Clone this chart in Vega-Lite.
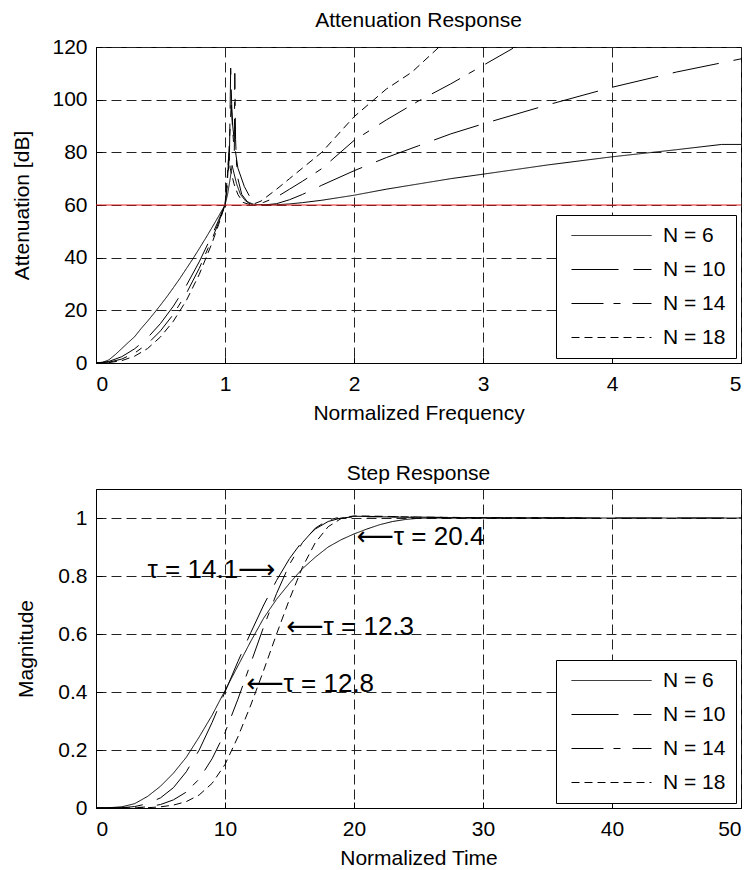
{
  "$schema": "https://vega.github.io/schema/vega-lite/v6.json",
  "background": "white",
  "padding": {"left": 11, "top": 9, "right": 0, "bottom": 0},
  "spacing": 38,
  "config": {
    "font": "Liberation Sans",
    "view": {"stroke": "black", "strokeWidth": 1},
    "axis": {
      "labelFont": "Liberation Sans", "labelFontSize": 21, "labelColor": "black",
      "titleFont": "Liberation Sans", "titleFontSize": 21, "titleFontWeight": "normal", "titleColor": "black",
      "domainColor": "black", "tickColor": "black", "tickSize": -6,
      "gridColor": "#222222", "gridDash": [10, 5], "gridOpacity": 1, "gridWidth": 1
    },
    "title": {"font": "Liberation Sans", "fontSize": 21, "fontWeight": "normal", "color": "black"},
    "legend": {
      "title": null, "orient": "bottom-right", "offset": 5,
      "strokeColor": "black", "fillColor": "white", "padding": 10, "cornerRadius": 0,
      "symbolType": "stroke", "symbolSize": 6400, "symbolStrokeWidth": 1, "symbolStrokeColor": "black",
      "clipHeight": 21, "rowPadding": 12, "labelFont": "Liberation Sans", "labelFontSize": 21,
      "labelColor": "black", "labelOffset": 11, "symbolOffset": 5
    }
  },
  "datasets": {
    "atten": [
      {"N": "N = 6", "f": 0, "A": 0}, {"N": "N = 6", "f": 0.05, "A": 0.2}, {"N": "N = 6", "f": 0.1, "A": 1.2},
      {"N": "N = 6", "f": 0.15, "A": 3.2}, {"N": "N = 6", "f": 0.2, "A": 5.5}, {"N": "N = 6", "f": 0.25, "A": 7.8},
      {"N": "N = 6", "f": 0.3, "A": 10}, {"N": "N = 6", "f": 0.35, "A": 13.1}, {"N": "N = 6", "f": 0.4, "A": 15.9},
      {"N": "N = 6", "f": 0.45, "A": 18.9}, {"N": "N = 6", "f": 0.5, "A": 22}, {"N": "N = 6", "f": 0.55, "A": 25.2},
      {"N": "N = 6", "f": 0.6, "A": 28.6}, {"N": "N = 6", "f": 0.65, "A": 32.1}, {"N": "N = 6", "f": 0.7, "A": 35.8},
      {"N": "N = 6", "f": 0.75, "A": 39.5}, {"N": "N = 6", "f": 0.8, "A": 43.4}, {"N": "N = 6", "f": 0.85, "A": 47.4},
      {"N": "N = 6", "f": 0.9, "A": 51.5}, {"N": "N = 6", "f": 0.95, "A": 55.7}, {"N": "N = 6", "f": 1.0, "A": 60},
      {"N": "N = 6", "f": 1.02, "A": 64}, {"N": "N = 6", "f": 1.04, "A": 70}, {"N": "N = 6", "f": 1.055, "A": 75},
      {"N": "N = 6", "f": 1.07, "A": 72}, {"N": "N = 6", "f": 1.09, "A": 68}, {"N": "N = 6", "f": 1.12, "A": 64},
      {"N": "N = 6", "f": 1.16, "A": 61.5}, {"N": "N = 6", "f": 1.22, "A": 60.3}, {"N": "N = 6", "f": 1.3, "A": 60},
      {"N": "N = 6", "f": 1.4, "A": 60.1}, {"N": "N = 6", "f": 1.5, "A": 60.4}, {"N": "N = 6", "f": 1.6, "A": 60.9},
      {"N": "N = 6", "f": 1.75, "A": 61.8}, {"N": "N = 6", "f": 2.0, "A": 63.7}, {"N": "N = 6", "f": 2.25, "A": 66},
      {"N": "N = 6", "f": 2.5, "A": 68}, {"N": "N = 6", "f": 2.75, "A": 70}, {"N": "N = 6", "f": 3.0, "A": 71.7},
      {"N": "N = 6", "f": 3.5, "A": 75.2}, {"N": "N = 6", "f": 4.0, "A": 78.3}, {"N": "N = 6", "f": 4.5, "A": 81},
      {"N": "N = 6", "f": 4.85, "A": 83}, {"N": "N = 6", "f": 5.0, "A": 83},

      {"N": "N = 10", "f": 0, "A": 0}, {"N": "N = 10", "f": 0.1, "A": 0.6}, {"N": "N = 10", "f": 0.2, "A": 2.4},
      {"N": "N = 10", "f": 0.3, "A": 5.4}, {"N": "N = 10", "f": 0.4, "A": 9.6}, {"N": "N = 10", "f": 0.5, "A": 15},
      {"N": "N = 10", "f": 0.6, "A": 21.6}, {"N": "N = 10", "f": 0.7, "A": 29.4}, {"N": "N = 10", "f": 0.8, "A": 38.4},
      {"N": "N = 10", "f": 0.9, "A": 48.6}, {"N": "N = 10", "f": 0.95, "A": 54.2}, {"N": "N = 10", "f": 1.0, "A": 60},
      {"N": "N = 10", "f": 1.02, "A": 68}, {"N": "N = 10", "f": 1.035, "A": 80}, {"N": "N = 10", "f": 1.044, "A": 112},
      {"N": "N = 10", "f": 1.052, "A": 98}, {"N": "N = 10", "f": 1.06, "A": 90}, {"N": "N = 10", "f": 1.08, "A": 80.7},
      {"N": "N = 10", "f": 1.1, "A": 74}, {"N": "N = 10", "f": 1.15, "A": 67}, {"N": "N = 10", "f": 1.2, "A": 62.4},
      {"N": "N = 10", "f": 1.25, "A": 60.5}, {"N": "N = 10", "f": 1.3, "A": 60}, {"N": "N = 10", "f": 1.4, "A": 60.5},
      {"N": "N = 10", "f": 1.5, "A": 62}, {"N": "N = 10", "f": 1.6, "A": 64}, {"N": "N = 10", "f": 1.75, "A": 67.5},
      {"N": "N = 10", "f": 2.0, "A": 73}, {"N": "N = 10", "f": 2.25, "A": 78}, {"N": "N = 10", "f": 2.5, "A": 82.5},
      {"N": "N = 10", "f": 2.75, "A": 87}, {"N": "N = 10", "f": 3.0, "A": 90.8}, {"N": "N = 10", "f": 3.5, "A": 98},
      {"N": "N = 10", "f": 4.0, "A": 104.7}, {"N": "N = 10", "f": 4.5, "A": 110.5}, {"N": "N = 10", "f": 5.0, "A": 115.5},

      {"N": "N = 14", "f": 0, "A": 0}, {"N": "N = 14", "f": 0.1, "A": 0.3}, {"N": "N = 14", "f": 0.2, "A": 1.5},
      {"N": "N = 14", "f": 0.3, "A": 3.8}, {"N": "N = 14", "f": 0.4, "A": 7.3}, {"N": "N = 14", "f": 0.5, "A": 12.2},
      {"N": "N = 14", "f": 0.6, "A": 18.5}, {"N": "N = 14", "f": 0.7, "A": 26.4}, {"N": "N = 14", "f": 0.8, "A": 35.9},
      {"N": "N = 14", "f": 0.9, "A": 47.1}, {"N": "N = 14", "f": 0.95, "A": 53.3}, {"N": "N = 14", "f": 1.0, "A": 60},
      {"N": "N = 14", "f": 1.02, "A": 70}, {"N": "N = 14", "f": 1.035, "A": 85}, {"N": "N = 14", "f": 1.048, "A": 98},
      {"N": "N = 14", "f": 1.06, "A": 88}, {"N": "N = 14", "f": 1.072, "A": 80}, {"N": "N = 14", "f": 1.076, "A": 110},
      {"N": "N = 14", "f": 1.082, "A": 85}, {"N": "N = 14", "f": 1.09, "A": 75}, {"N": "N = 14", "f": 1.1, "A": 70},
      {"N": "N = 14", "f": 1.13, "A": 64}, {"N": "N = 14", "f": 1.18, "A": 60.8}, {"N": "N = 14", "f": 1.22, "A": 60},
      {"N": "N = 14", "f": 1.3, "A": 61}, {"N": "N = 14", "f": 1.4, "A": 63}, {"N": "N = 14", "f": 1.5, "A": 66},
      {"N": "N = 14", "f": 1.6, "A": 69}, {"N": "N = 14", "f": 1.75, "A": 73.8}, {"N": "N = 14", "f": 2.0, "A": 84.5},
      {"N": "N = 14", "f": 2.25, "A": 92.3}, {"N": "N = 14", "f": 2.5, "A": 99.5}, {"N": "N = 14", "f": 2.75, "A": 106},
      {"N": "N = 14", "f": 3.0, "A": 113}, {"N": "N = 14", "f": 3.25, "A": 120},

      {"N": "N = 18", "f": 0, "A": 0}, {"N": "N = 18", "f": 0.1, "A": 0.15}, {"N": "N = 18", "f": 0.2, "A": 0.9},
      {"N": "N = 18", "f": 0.3, "A": 2.6}, {"N": "N = 18", "f": 0.4, "A": 5.5}, {"N": "N = 18", "f": 0.5, "A": 9.9},
      {"N": "N = 18", "f": 0.6, "A": 15.9}, {"N": "N = 18", "f": 0.7, "A": 23.7}, {"N": "N = 18", "f": 0.8, "A": 33.6},
      {"N": "N = 18", "f": 0.9, "A": 45.6}, {"N": "N = 18", "f": 0.95, "A": 52.5}, {"N": "N = 18", "f": 1.0, "A": 60},
      {"N": "N = 18", "f": 1.02, "A": 72}, {"N": "N = 18", "f": 1.03, "A": 80}, {"N": "N = 18", "f": 1.04, "A": 74},
      {"N": "N = 18", "f": 1.05, "A": 72}, {"N": "N = 18", "f": 1.07, "A": 68}, {"N": "N = 18", "f": 1.1, "A": 64},
      {"N": "N = 18", "f": 1.14, "A": 61}, {"N": "N = 18", "f": 1.2, "A": 60}, {"N": "N = 18", "f": 1.28, "A": 61.5},
      {"N": "N = 18", "f": 1.4, "A": 66}, {"N": "N = 18", "f": 1.5, "A": 70}, {"N": "N = 18", "f": 1.6, "A": 74},
      {"N": "N = 18", "f": 1.75, "A": 80}, {"N": "N = 18", "f": 2.0, "A": 93.5}, {"N": "N = 18", "f": 2.25, "A": 104},
      {"N": "N = 18", "f": 2.45, "A": 110.5}, {"N": "N = 18", "f": 2.66, "A": 120}
    ],
    "step": [
      {"N": "N = 6", "t": 0, "m": 0}, {"N": "N = 6", "t": 1, "m": 0.001}, {"N": "N = 6", "t": 2, "m": 0.004},
      {"N": "N = 6", "t": 3, "m": 0.015}, {"N": "N = 6", "t": 4, "m": 0.04}, {"N": "N = 6", "t": 5, "m": 0.075},
      {"N": "N = 6", "t": 6, "m": 0.12}, {"N": "N = 6", "t": 7, "m": 0.175}, {"N": "N = 6", "t": 8, "m": 0.245},
      {"N": "N = 6", "t": 9, "m": 0.32}, {"N": "N = 6", "t": 10, "m": 0.405}, {"N": "N = 6", "t": 11, "m": 0.49},
      {"N": "N = 6", "t": 12, "m": 0.575}, {"N": "N = 6", "t": 13, "m": 0.655}, {"N": "N = 6", "t": 14, "m": 0.72},
      {"N": "N = 6", "t": 15, "m": 0.775}, {"N": "N = 6", "t": 16, "m": 0.825}, {"N": "N = 6", "t": 17, "m": 0.865},
      {"N": "N = 6", "t": 18, "m": 0.9}, {"N": "N = 6", "t": 19, "m": 0.925}, {"N": "N = 6", "t": 20, "m": 0.945},
      {"N": "N = 6", "t": 21, "m": 0.962}, {"N": "N = 6", "t": 22, "m": 0.977}, {"N": "N = 6", "t": 23, "m": 0.988},
      {"N": "N = 6", "t": 24, "m": 0.995}, {"N": "N = 6", "t": 25, "m": 0.999}, {"N": "N = 6", "t": 26, "m": 1.0},
      {"N": "N = 6", "t": 30, "m": 1.0}, {"N": "N = 6", "t": 40, "m": 1.0}, {"N": "N = 6", "t": 50, "m": 1.0},

      {"N": "N = 10", "t": 0, "m": 0}, {"N": "N = 10", "t": 2, "m": 0.001}, {"N": "N = 10", "t": 3, "m": 0.005},
      {"N": "N = 10", "t": 4, "m": 0.015}, {"N": "N = 10", "t": 5, "m": 0.035}, {"N": "N = 10", "t": 6, "m": 0.07},
      {"N": "N = 10", "t": 7, "m": 0.125}, {"N": "N = 10", "t": 8, "m": 0.2}, {"N": "N = 10", "t": 9, "m": 0.295},
      {"N": "N = 10", "t": 10, "m": 0.4}, {"N": "N = 10", "t": 11, "m": 0.505}, {"N": "N = 10", "t": 12, "m": 0.605},
      {"N": "N = 10", "t": 13, "m": 0.7}, {"N": "N = 10", "t": 14, "m": 0.785}, {"N": "N = 10", "t": 15, "m": 0.86},
      {"N": "N = 10", "t": 16, "m": 0.92}, {"N": "N = 10", "t": 17, "m": 0.962}, {"N": "N = 10", "t": 18, "m": 0.988},
      {"N": "N = 10", "t": 19, "m": 1.0}, {"N": "N = 10", "t": 20, "m": 1.004}, {"N": "N = 10", "t": 22, "m": 1.004},
      {"N": "N = 10", "t": 25, "m": 1.002}, {"N": "N = 10", "t": 30, "m": 1.0}, {"N": "N = 10", "t": 50, "m": 1.0},

      {"N": "N = 14", "t": 0, "m": 0}, {"N": "N = 14", "t": 3, "m": 0.001}, {"N": "N = 14", "t": 4, "m": 0.004},
      {"N": "N = 14", "t": 5, "m": 0.012}, {"N": "N = 14", "t": 6, "m": 0.028}, {"N": "N = 14", "t": 7, "m": 0.055},
      {"N": "N = 14", "t": 8, "m": 0.1}, {"N": "N = 14", "t": 9, "m": 0.17}, {"N": "N = 14", "t": 10, "m": 0.26},
      {"N": "N = 14", "t": 11, "m": 0.375}, {"N": "N = 14", "t": 12, "m": 0.5}, {"N": "N = 14", "t": 13, "m": 0.625},
      {"N": "N = 14", "t": 14, "m": 0.74}, {"N": "N = 14", "t": 15, "m": 0.84}, {"N": "N = 14", "t": 16, "m": 0.915},
      {"N": "N = 14", "t": 17, "m": 0.965}, {"N": "N = 14", "t": 18, "m": 0.993}, {"N": "N = 14", "t": 19, "m": 1.004},
      {"N": "N = 14", "t": 20, "m": 1.006}, {"N": "N = 14", "t": 22, "m": 1.005}, {"N": "N = 14", "t": 25, "m": 1.003},
      {"N": "N = 14", "t": 30, "m": 1.001}, {"N": "N = 14", "t": 37.7, "m": 1.0},

      {"N": "N = 18", "t": 0, "m": 0}, {"N": "N = 18", "t": 4, "m": 0.001}, {"N": "N = 18", "t": 5, "m": 0.004},
      {"N": "N = 18", "t": 6, "m": 0.01}, {"N": "N = 18", "t": 7, "m": 0.022}, {"N": "N = 18", "t": 8, "m": 0.045},
      {"N": "N = 18", "t": 9, "m": 0.085}, {"N": "N = 18", "t": 10, "m": 0.15}, {"N": "N = 18", "t": 11, "m": 0.245},
      {"N": "N = 18", "t": 12, "m": 0.355}, {"N": "N = 18", "t": 13, "m": 0.475}, {"N": "N = 18", "t": 14, "m": 0.6},
      {"N": "N = 18", "t": 15, "m": 0.72}, {"N": "N = 18", "t": 16, "m": 0.83}, {"N": "N = 18", "t": 17, "m": 0.915},
      {"N": "N = 18", "t": 18, "m": 0.97}, {"N": "N = 18", "t": 19, "m": 0.998}, {"N": "N = 18", "t": 20, "m": 1.007},
      {"N": "N = 18", "t": 22, "m": 1.006}, {"N": "N = 18", "t": 25, "m": 1.003}, {"N": "N = 18", "t": 30, "m": 1.001},
      {"N": "N = 18", "t": 37.7, "m": 1.0}
    ],
    "tau": [
      {"t": 4.0, "m": 0.82, "label": "τ = 14.1⟶"},
      {"t": 14.75, "m": 0.623, "label": "⟵τ = 12.3"},
      {"t": 11.65, "m": 0.4285, "label": "⟵τ = 12.8"},
      {"t": 20.2, "m": 0.935, "label": "⟵τ = 20.4"}
    ],
    "limit": [{"A": 60}]
  },
  "resolve": {"scale": {"strokeDash": "independent"}, "legend": {"strokeDash": "independent"}},
  "vconcat": [
    {
      "width": 645, "height": 316,
      "title": {"text": "Attenuation Response", "offset": 5},
      "layer": [
        {
          "data": {"name": "atten"},
          "mark": {"type": "line", "clip": true, "strokeWidth": 1, "color": "black"},
          "encoding": {
            "x": {"field": "f", "type": "quantitative", "scale": {"domain": [0, 5], "nice": false},
                  "axis": {"title": "Normalized Frequency", "values": [0, 1, 2, 3, 4, 5], "labelPadding": 16, "titlePadding": 8}},
            "y": {"field": "A", "type": "quantitative", "scale": {"domain": [0, 120], "nice": false},
                  "axis": {"title": "Attenuation [dB]", "values": [0, 20, 40, 60, 80, 100, 120], "labelPadding": 15, "titlePadding": 19}},
            "strokeDash": {"field": "N", "type": "nominal",
                           "scale": {"domain": ["N = 6", "N = 10", "N = 14", "N = 18"], "range": [[1, 0], [47, 15], [32, 10, 7, 12], [8, 5]]}}
          }
        },
        {
          "data": {"name": "limit"},
          "mark": {"type": "rule", "color": "#e02020", "strokeWidth": 1},
          "encoding": {"y": {"field": "A", "type": "quantitative"}}
        }
      ]
    },
    {
      "width": 645, "height": 319,
      "title": {"text": "Step Response", "offset": 5},
      "layer": [
        {
          "data": {"name": "step"},
          "mark": {"type": "line", "clip": true, "strokeWidth": 1, "color": "black"},
          "encoding": {
            "x": {"field": "t", "type": "quantitative", "scale": {"domain": [0, 50], "nice": false},
                  "axis": {"title": "Normalized Time", "values": [0, 10, 20, 30, 40, 50], "labelPadding": 16, "titlePadding": 8}},
            "y": {"field": "m", "type": "quantitative", "scale": {"domain": [0, 1.1], "nice": false},
                  "axis": {"title": "Magnitude", "values": [0, 0.2, 0.4, 0.6, 0.8, 1], "format": "~g", "labelPadding": 15, "titlePadding": 21}},
            "strokeDash": {"field": "N", "type": "nominal",
                           "scale": {"domain": ["N = 6", "N = 10", "N = 14", "N = 18"], "range": [[1, 0], [47, 15], [32, 10, 7, 12], [8, 5]]}}
          }
        },
        {
          "data": {"name": "tau"},
          "mark": {"type": "text", "align": "left", "baseline": "middle", "fontSize": 26, "font": "Liberation Sans, DejaVu Sans", "color": "black"},
          "encoding": {
            "x": {"field": "t", "type": "quantitative"},
            "y": {"field": "m", "type": "quantitative"},
            "text": {"field": "label"}
          }
        }
      ]
    }
  ]
}
